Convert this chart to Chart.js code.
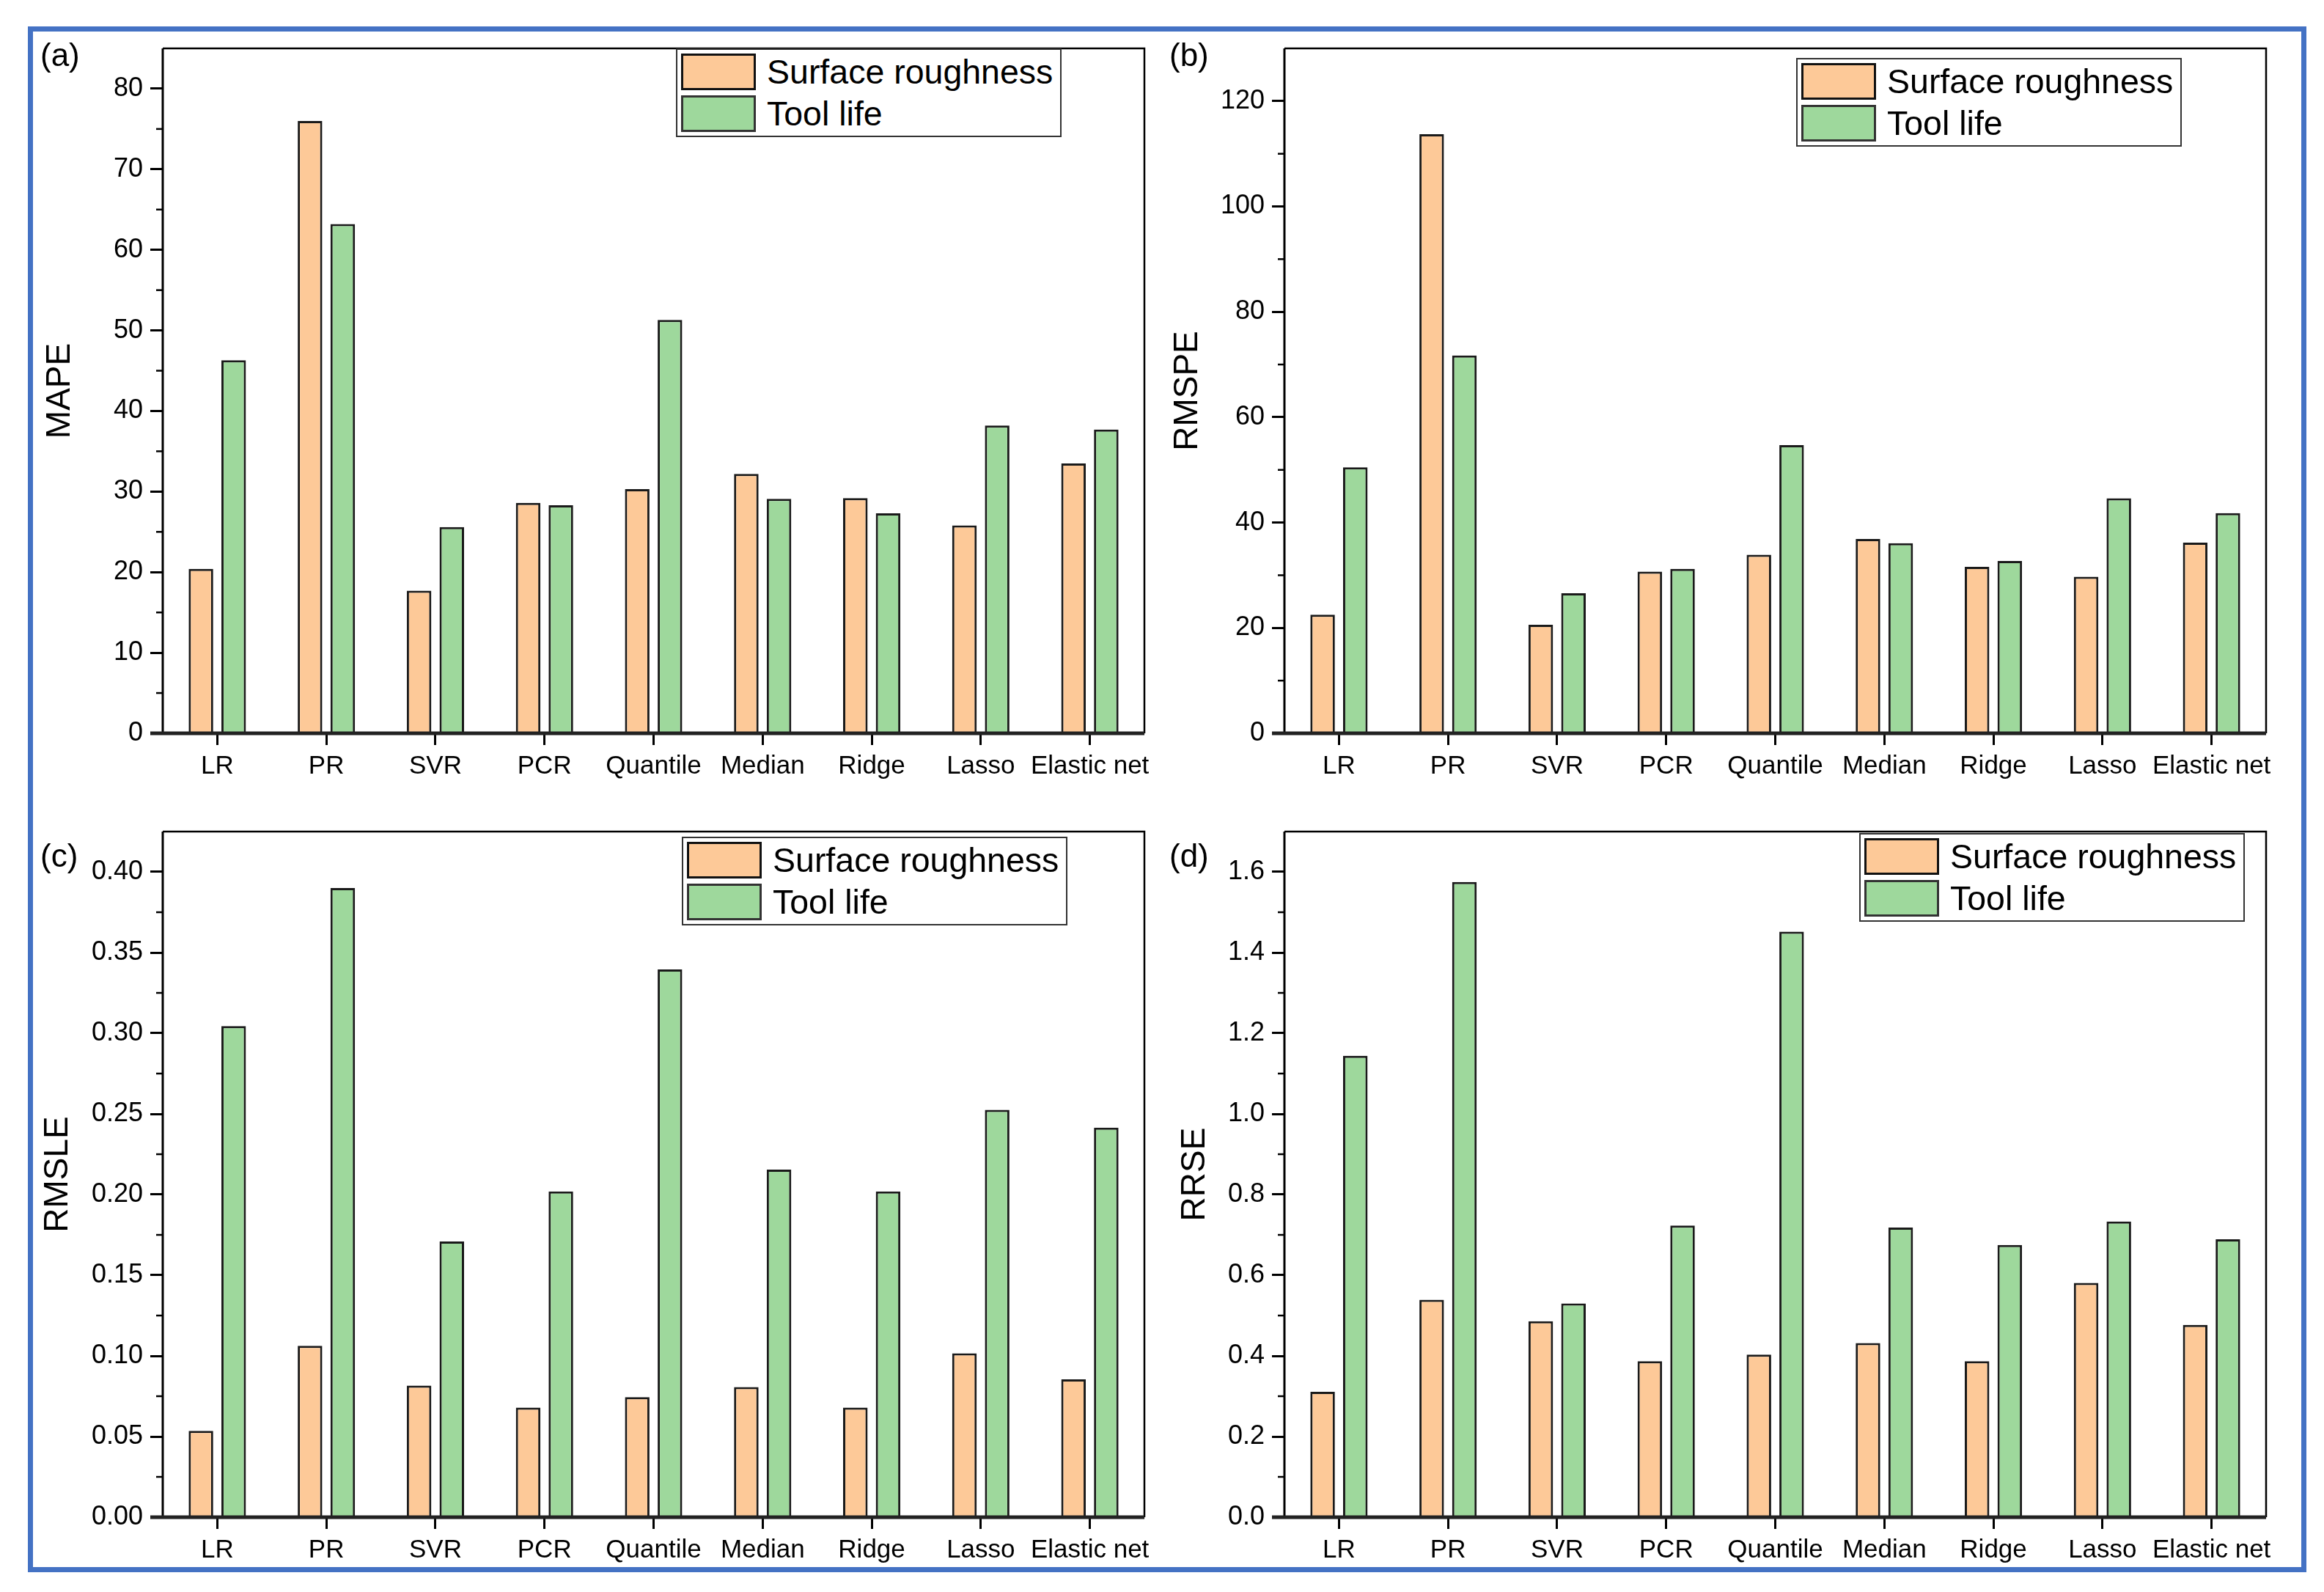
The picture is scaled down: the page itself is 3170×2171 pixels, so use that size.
<!DOCTYPE html>
<html><head><meta charset="utf-8">
<script src="https://cdn.jsdelivr.net/npm/chart.js@4.4.1/dist/chart.umd.min.js"></script>
<style>
html,body{margin:0;padding:0;background:#fff;}
#root{position:relative;width:3170px;height:2171px;background:#fff;overflow:hidden;font-family:'Liberation Sans',Arial,sans-serif;}
canvas{position:absolute;}
.frame{position:absolute;left:38px;top:36px;width:3108px;height:2108px;border:7px solid #4472C4;box-sizing:border-box;pointer-events:none;}
.plabel{position:absolute;font-size:44px;line-height:44px;color:#000;}
.legend{position:absolute;width:526px;height:121px;border:2px solid #333;box-sizing:border-box;background:#fff;}
.sw{position:absolute;left:5px;width:102px;height:50px;box-sizing:border-box;border:3px solid #111;}
.lt{position:absolute;left:122px;font-size:46.5px;line-height:50px;height:50px;color:#000;white-space:nowrap;}
</style></head>
<body>
<div id="root">
<canvas id="cA" width="1585" height="1085" style="left:0;top:0;width:1585px;height:1085px"></canvas>
<canvas id="cB" width="1585" height="1085" style="left:1585px;top:0;width:1585px;height:1085px"></canvas>
<canvas id="cC" width="1585" height="1086" style="left:0;top:1085px;width:1585px;height:1086px"></canvas>
<canvas id="cD" width="1585" height="1086" style="left:1585px;top:1085px;width:1585px;height:1086px"></canvas>
<div class="frame"></div>
</div>
<script>
// ---- data ----
const categories = ['LR','PR','SVR','PCR','Quantile','Median','Ridge','Lasso','Elastic net'];
const seriesNames = ['Surface roughness','Tool life'];
const mapeSurface  = [20.4, 76.0, 17.7, 28.6, 30.3, 32.2, 29.2, 25.8, 33.5];
const mapeTool     = [46.3, 63.2, 25.6, 28.3, 51.3, 29.1, 27.3, 38.2, 37.7];
const rmspeSurface = [22.5, 113.7, 20.6, 30.7, 33.9, 36.9, 31.6, 29.7, 36.2];
const rmspeTool    = [50.5, 71.7, 26.6, 31.2, 54.7, 36.1, 32.7, 44.6, 41.8];
const rmsleSurface = [0.0535, 0.1063, 0.0816, 0.068, 0.0744, 0.0807, 0.068, 0.1016, 0.0854];
const rmsleTool    = [0.3044, 0.390, 0.1709, 0.2019, 0.3396, 0.2155, 0.2019, 0.2525, 0.2415];
const rrseSurface  = [0.311, 0.539, 0.486, 0.387, 0.403, 0.432, 0.387, 0.581, 0.477];
const rrseTool     = [1.144, 1.575, 0.530, 0.723, 1.452, 0.718, 0.675, 0.733, 0.689];
const panelLetters = ['(a)','(b)','(c)','(d)'];
const axisTitles   = ['MAPE','RMSPE','RMSLE','RRSE'];

const FONT = "'Liberation Sans', Arial, sans-serif";
const ORANGE = '#FDC998';
const GREEN = '#9ED89C';

const framePlugin = {
  id: 'frame',
  afterDatasetsDraw(chart, args, opts) {
    const {ctx, chartArea: a} = chart;
    ctx.save();
    ctx.strokeStyle = '#000';
    ctx.lineWidth = 2.5;
    ctx.beginPath(); ctx.moveTo(a.left, a.top); ctx.lineTo(a.right, a.top); ctx.lineTo(a.right, a.bottom); ctx.stroke();
    ctx.lineWidth = 3;
    ctx.beginPath(); ctx.moveTo(a.left, a.top); ctx.lineTo(a.left, a.bottom); ctx.stroke();
    ctx.lineWidth = 5; ctx.strokeStyle = '#222';
    ctx.beginPath(); ctx.moveTo(a.left - 17, a.bottom); ctx.lineTo(a.right, a.bottom); ctx.stroke();
    const y = chart.scales.y, step = opts.minor;
    ctx.lineWidth = 2.5; ctx.strokeStyle = '#000';
    for (let i = 1; i * step < y.max - 1e-9; i += 2) {
      const py = y.getPixelForValue(i * step);
      ctx.beginPath(); ctx.moveTo(a.left - 9, py); ctx.lineTo(a.left, py); ctx.stroke();
    }
    ctx.restore();
  }
};

function makeChart(id, cfg) {
  new Chart(document.getElementById(id), {
    type: 'bar',
    data: {
      labels: categories,
      datasets: [
        {label: seriesNames[0], data: cfg.s, backgroundColor: ORANGE, borderColor: '#1a1a1a', borderWidth: 3, categoryPercentage: 0.6, barPercentage: 0.75},
        {label: seriesNames[1], data: cfg.t, backgroundColor: GREEN, borderColor: '#1a1a1a', borderWidth: 3, categoryPercentage: 0.6, barPercentage: 0.75}
      ]
    },
    options: {
      responsive: false, animation: false, devicePixelRatio: 1,
      layout: {padding: {left: 0, top: cfg.top, right: cfg.right, bottom: cfg.bottom}},
      plugins: {legend: {display: false}, tooltip: {enabled: false}, frame: {minor: cfg.minor}},
      scales: {
        x: {
          offset: true,
          grid: {offset: false, drawOnChartArea: false, drawTicks: true, tickLength: 16, tickWidth: 3, tickColor: '#000'},
          border: {display: false},
          ticks: {autoSkip: false, maxRotation: 0, minRotation: 0, padding: 8, color: '#000', font: {family: FONT, size: 35}},
          afterFit(s) { s.height = 80; }
        },
        y: {
          min: 0, max: cfg.max,
          grid: {drawOnChartArea: false, drawTicks: true, tickLength: 17, tickWidth: 3, tickColor: '#000'},
          border: {display: false},
          ticks: {stepSize: cfg.step, includeBounds: false, padding: 10, color: '#000', font: {family: FONT, size: 36},
                  callback: v => Number(v).toFixed(cfg.dec)},
          title: {display: true, text: cfg.title, color: '#000', font: {family: FONT, size: 46}, padding: {top: cfg.tpad, bottom: 0}},
          afterFit(s) { s.width = cfg.left; }
        }
      }
    },
    plugins: [framePlugin]
  });
}

makeChart('cA', {s: mapeSurface,  t: mapeTool,  title: axisTitles[0], left: 222, right: 24, top: 66, bottom: 5,  max: 85,    step: 10,   minor: 5,     dec: 0, tpad: 55});
makeChart('cB', {s: rmspeSurface, t: rmspeTool, title: axisTitles[1], left: 167, right: 79, top: 66, bottom: 5,  max: 130,   step: 20,   minor: 10,    dec: 0, tpad: 8});
makeChart('cC', {s: rmsleSurface, t: rmsleTool, title: axisTitles[2], left: 222, right: 24, top: 49, bottom: 22, max: 0.425, step: 0.05, minor: 0.025, dec: 2, tpad: 52});
makeChart('cD', {s: rrseSurface,  t: rrseTool,  title: axisTitles[3], left: 167, right: 79, top: 49, bottom: 22, max: 1.7,   step: 0.2,  minor: 0.1,   dec: 1, tpad: 18});

// legends and panel letters (HTML text)
const root = document.getElementById('root');
const legendPos = [[922, 66], [2450, 79], [930, 1141], [2536, 1136]];
const letterPos = [[55, 53], [1595, 53], [55, 1145], [1595, 1145]];
const swColors = [ORANGE, GREEN];
legendPos.forEach((p, k) => {
  const lg = document.createElement('div');
  lg.className = 'legend';
  lg.style.left = p[0] + 'px'; lg.style.top = p[1] + 'px';
  seriesNames.forEach((n, i) => {
    const sw = document.createElement('div');
    sw.className = 'sw'; sw.style.top = (5 + i * 57) + 'px'; sw.style.background = swColors[i];
    if (i === 1) sw.style.borderColor = '#333';
    const t = document.createElement('div');
    t.className = 'lt'; t.style.top = (5 + i * 57) + 'px'; t.textContent = n;
    lg.appendChild(sw); lg.appendChild(t);
  });
  root.appendChild(lg);
  const lb = document.createElement('div');
  lb.className = 'plabel';
  lb.style.left = letterPos[k][0] + 'px'; lb.style.top = letterPos[k][1] + 'px';
  lb.textContent = panelLetters[k];
  root.appendChild(lb);
});
</script>
</body></html>
